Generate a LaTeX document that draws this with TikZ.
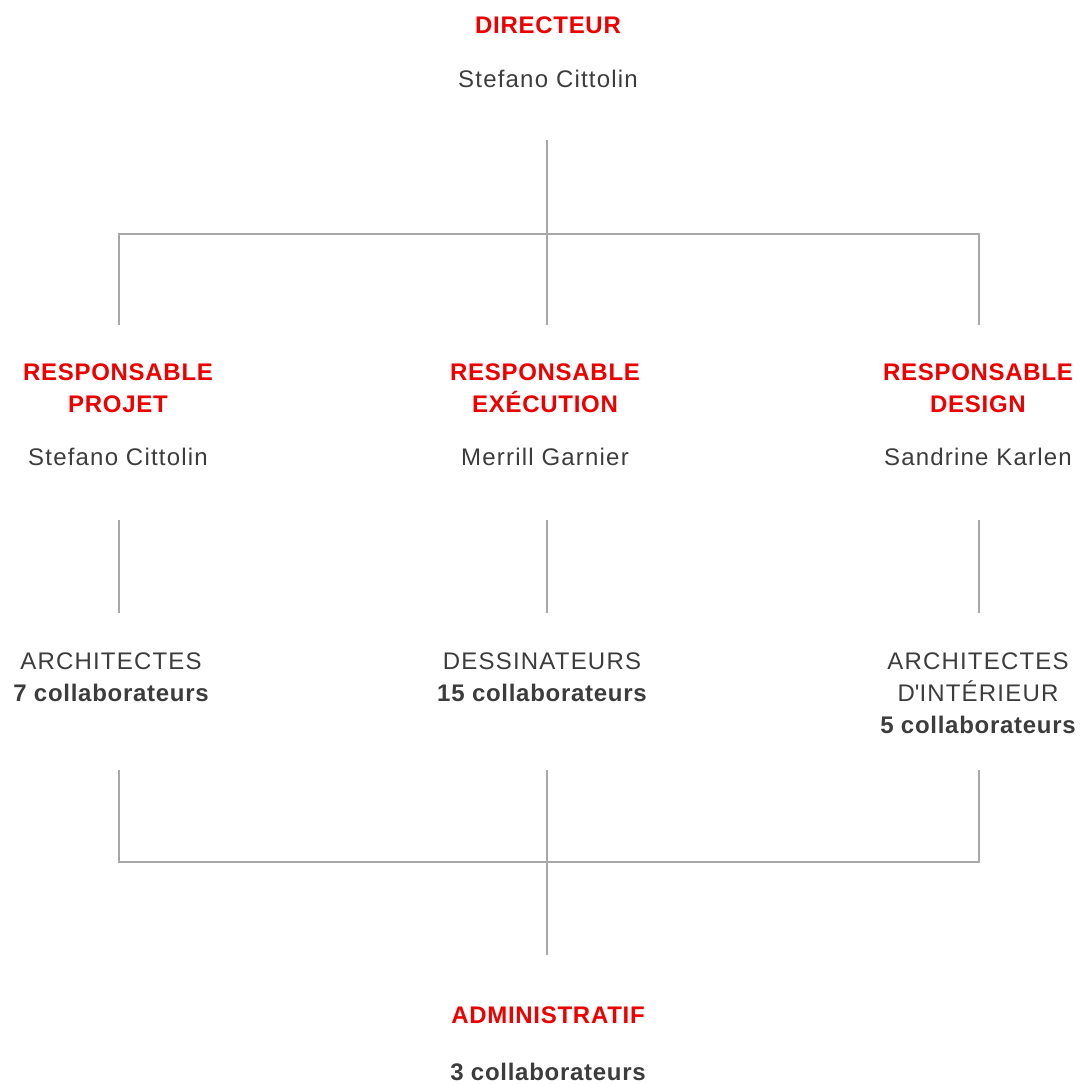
\documentclass[tikz,border=0pt]{standalone}
\usepackage{fontspec}
\setmainfont[LetterSpace=5,BoldFeatures={LetterSpace=3}]{Liberation Sans}
\definecolor{orgred}{RGB}{236,0,0}
\definecolor{orgtext}{RGB}{60,60,60}
\definecolor{orgline}{RGB}{168,168,168}
\begin{document}
\begin{tikzpicture}[x=0.5pt,y=-0.5pt,
  every node/.style={inner sep=0pt,anchor=base},
  ttlbox/.style={font=\fontsize{12pt}{16pt}\selectfont\bfseries,text=orgred},
  nmbox/.style={font=\fontsize{12pt}{16pt}\selectfont,text=orgtext},
  cntbox/.style={font=\fontsize{12pt}{16pt}\selectfont\bfseries,text=orgtext},
  conn/.style={draw=orgline,line width=0.7pt}]
\useasboundingbox (0,0) rectangle (1085,1083);
% top
\node[ttlbox] (dir) at (548,33) {DIRECTEUR};
\node[nmbox] (dirn) at (548,87) {Stefano Cittolin};
% responsables
\node[ttlbox] (rp1) at (118,380) {RESPONSABLE};
\node[ttlbox] (rp2) at (118,412) {PROJET};
\node[nmbox] (rpn) at (118,465) {Stefano Cittolin};
\node[ttlbox] (re1) at (545,380) {RESPONSABLE};
\node[ttlbox] (re2) at (545,412) {EXÉCUTION};
\node[nmbox] (ren) at (545,465) {Merrill Garnier};
\node[ttlbox] (rd1) at (978,380) {RESPONSABLE};
\node[ttlbox] (rd2) at (978,412) {DESIGN};
\node[nmbox] (rdn) at (978,465) {Sandrine Karlen};
% teams
\node[nmbox] (ta1) at (111,669) {ARCHITECTES};
\node[cntbox] (ta2) at (111,701) {7 collaborateurs};
\node[nmbox] (td1) at (542,669) {DESSINATEURS};
\node[cntbox] (td2) at (542,701) {15 collaborateurs};
\node[nmbox] (ti1) at (978,669) {ARCHITECTES};
\node[nmbox] (ti2) at (978,701) {D\textquotesingle INTÉRIEUR};
\node[cntbox] (ti3) at (978,733) {5 collaborateurs};
% admin
\node[ttlbox] (adm) at (548,1023) {ADMINISTRATIF};
\node[cntbox] (admn) at (548,1080) {3 collaborateurs};
% connector points
\coordinate (c0) at (547,140);
\coordinate (cL) at (119,234);
\coordinate (cM) at (547,234);
\coordinate (cR) at (979,234);
\coordinate (cLb) at (119,325);
\coordinate (cMb) at (547,325);
\coordinate (cRb) at (979,325);
\coordinate (mLt) at (119,520);
\coordinate (mMt) at (547,520);
\coordinate (mRt) at (979,520);
\coordinate (mLb) at (119,613);
\coordinate (mMb) at (547,613);
\coordinate (mRb) at (979,613);
\coordinate (bLt) at (119,770);
\coordinate (bMt) at (547,770);
\coordinate (bRt) at (979,770);
\coordinate (bL) at (119,862);
\coordinate (bM) at (547,862);
\coordinate (bR) at (979,862);
\coordinate (bEnd) at (547,955);
% connectors
\draw[conn] (c0) -- (cM) -- (cMb);
\draw[conn] (cLb) -- (cL) -- (cR) -- (cRb);
\draw[conn] (mLt) -- (mLb);
\draw[conn] (mMt) -- (mMb);
\draw[conn] (mRt) -- (mRb);
\draw[conn] (bLt) -- (bL) -- (bR) -- (bRt);
\draw[conn] (bMt) -- (bM) -- (bEnd);
\end{tikzpicture}
\end{document}
